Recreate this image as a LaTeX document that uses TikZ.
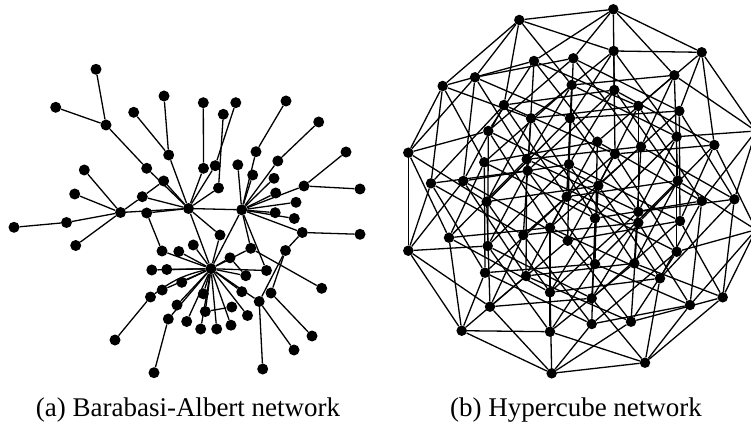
\documentclass[tikz,border=0pt]{standalone}
\usepackage{fontspec}
\setmainfont{Liberation Serif}
\begin{document}
\begin{tikzpicture}[x=1pt,y=-1pt,
  vtx/.style={circle,fill=black,inner sep=0pt,minimum size=11pt},
  hvtx/.style={circle,fill=black,inner sep=0pt,minimum size=10.5pt},
  link/.style={line width=1.3pt},
  capt/.style={font=\fontsize{27}{31}\selectfont,anchor=base}]
\useasboundingbox (0,0) rectangle (751,435);
\fill[white] (0,0) rectangle (751,435);
% ---------- Barabasi-Albert network ----------
\foreach \n/\x/\y in {
 1/96/69.3, 2/55.7/107.3, 3/106/125, 4/164/96, 5/133.7/112.3, 6/168.7/155,
 7/146.7/168.3, 8/84.3/170, 9/163.7/181, 10/142.3/196.7, 11/74.7/194,
 12/120.5/212.5, 13/146.7/213, 14/188.5/208.5, 15/66.5/222.5, 16/14/227.3,
 17/75.7/245.5, 18/203.3/102.7, 19/235.8/102.7, 20/223.3/114.3, 21/286/101,
 22/318.7/122, 23/346/152, 24/203.5/168.3, 25/215.2/165.7, 26/237.8/164.8,
 27/256/151.7, 28/277.8/161, 29/252.7/175, 30/274/178.3, 31/275.7/193,
 32/218.5/188, 33/304/186, 34/360/189, 35/241.7/209.8, 36/275.2/212.7,
 37/296/202.3, 38/294.3/218.5, 39/302.3/232.5, 40/360/234.3, 41/220/235,
 42/193.3/245, 43/178.8/251.5, 44/162/251, 45/230/257.8, 46/250.8/248.3,
 47/285.5/250.5, 48/211/268.7, 49/151.8/270, 50/166.8/269.5, 51/181.8/282.3,
 52/162.2/290, 53/150.5/297, 54/203.3/293.8, 55/177/305, 56/205.3/311.5,
 57/231.8/307, 58/168.3/319, 59/186.7/321.5, 60/200.7/329, 61/216.7/329,
 62/231/325.2, 63/247.5/315.5, 64/241.8/291.7, 65/245.8/275.7, 66/266.5/270.5,
 67/259.2/301.5, 68/271/293, 69/321.7/288.3, 70/312/336, 71/294/350,
 72/115/340, 73/154/372.7, 74/262.7/369}
  \node[vtx] (b\n) at (\x,\y) {};
\foreach \a/\b in {1/3, 2/3, 3/7, 7/14, 5/6, 4/6, 6/14, 8/12, 11/12, 10/12,
 10/14, 9/10, 9/14, 12/15, 15/16, 12/17, 12/14, 13/14, 13/44, 18/24, 24/14,
 19/25, 25/14, 20/32, 32/14, 14/35, 14/41, 14/48, 41/48, 35/48,
 35/26, 35/27, 35/28, 35/29, 35/30, 35/31, 35/33, 35/36, 35/37, 35/38, 35/39,
 35/46, 35/66, 21/27, 22/28, 23/33, 33/34, 39/40, 39/47,
 48/42, 48/43, 48/44, 48/45, 48/46, 48/49, 48/50, 48/51, 48/52, 48/54,
 48/55, 48/56, 48/58, 48/59, 48/60, 48/61, 48/62, 48/63, 48/64, 48/65, 48/66,
 48/67, 53/72, 58/73, 56/57, 67/74, 67/71, 68/70, 68/47, 47/67, 46/69, 45/65}
  \draw[link] (b\a) -- (b\b);
\draw[link] (b53) to[bend left=12] (b48);
% ---------- Hypercube network ----------
\foreach \n/\x/\y in {
 0/613.3/9.3, 1/701.7/52.3, 2/674.3/75.3, 3/756/131, 4/614.3/90, 5/714.3/145,
 6/677.7/180.7, 7/756/229.7, 8/573.3/58.3, 9/679.3/111, 10/641/146.7,
 11/734.3/199.3, 12/569/164.3, 13/680/221, 14/634.3/263.3, 15/722.7/297.3,
 16/534/61, 17/638.3/106, 18/597.3/141.7, 19/701.7/201, 20/527.7/170.7,
 21/638.3/222.7, 22/595/264, 23/690/305, 24/488.3/131, 25/598.3/185.7,
 26/550/227.7, 27/660/278.3, 28/487.7/246, 29/591.7/298.3, 30/550/331.7,
 31/645/362.7, 32/519.3/20, 33/613.7/51, 34/571.7/85, 35/676.7/136.7,
 36/504/105, 37/615/154, 38/566.7/196.7, 39/676.7/251.7, 40/475/77.3,
 41/570/118.3, 42/526.7/159.3, 43/638.3/211.7, 44/463.3/181, 45/567.7/240.7,
 46/526/276, 47/631/321.7, 48/442.7/86, 49/531/118.3, 50/484.3/162.3,
 51/595/218.3, 52/431/183.3, 53/523.3/235, 54/485/272.7, 55/591.7/324,
 56/408.3/152.7, 57/486.7/201.7, 58/449/237.7, 59/550/292.3, 60/408.3/250.7,
 61/490/306.7, 62/461.7/330.7, 63/551.7/373.3}
  \node[hvtx] (h\n) at (\x,\y) {};
\foreach \b in {0,...,63}{
  \foreach \k in {1,2,4,8,16,32}{
    \pgfmathtruncatemacro{\bt}{mod(floor(\b/\k),2)}
    \ifnum\bt=0
      \pgfmathtruncatemacro{\nb}{\b+\k}
      \draw[link] (h\b) -- (h\nb);
    \fi
  }
}
% ---------- captions ----------
\node[capt] (capa) at (188,416) {(a) Barabasi-Albert network};
\node[capt] (capb) at (576,416) {(b) Hypercube network};
\end{tikzpicture}
\end{document}
